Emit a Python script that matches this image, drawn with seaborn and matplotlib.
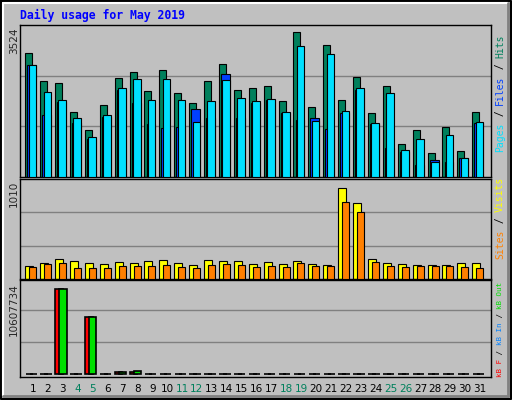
import numpy as np
import matplotlib
matplotlib.use("Agg")
import matplotlib.pyplot as plt
import seaborn as sns

days = list(range(1, 32))
weekends = [4, 5, 11, 12, 18, 19, 25, 26]
hits = [2935, 2262, 2215, 1541, 1100, 1704, 2331, 2494, 2029, 2540, 1983, 1750, 2262, 2680, 2052, 2099,
        2145, 1797, 3423, 1657, 3121, 1820, 2354, 1518, 2145, 775, 1100, 565, 1193, 612, 1541]
pages = [2657, 2006, 1820, 1402, 937, 1472, 2099, 2308, 1820, 2308, 1820, 1309, 1797, 2285, 1867, 1797,
         1843, 1541, 3098, 1332, 2912, 1564, 2099, 1286, 1983, 635, 891, 356, 984, 449, 1309]
files = [2657, 1472, 1781, 1286, 891, 1425, 2052, 1750, 1262, 1170, 1193, 1611, 1402, 2447, 1402, 1750,
         1820, 1518, 1355, 1402, 1146, 1518, 2052, 1262, 682, 589, 287, 403, 356, 449, 1286]
visits = [143, 173, 214, 194, 173, 163, 184, 173, 194, 204, 173, 153, 204, 194, 194, 163, 184, 163, 194,
          163, 153, 969, 806, 214, 173, 163, 153, 153, 153, 173, 173]
sites = [122, 163, 173, 112, 112, 112, 133, 133, 143, 153, 122, 112, 153, 163, 153, 122, 133, 122, 173,
         143, 133, 816, 714, 184, 133, 122, 133, 133, 133, 122, 112]
kb_out = [0, 0, 10160000, 0, 6810000, 0, 335000, 447000] + [0] * 23
kb_f = [0, 0, 10160000, 0, 6810000, 0, 335000, 335000] + [0] * 23
max_top, max_mid, max_bot = 3524, 1010, 10607734

sns.set_style("white", {"axes.facecolor": "#C0C0C0", "figure.facecolor": "#C0C0C0"})
W, H = 512, 400
fig = plt.figure(figsize=(W / 100, H / 100), dpi=100)
fig.patch.set_facecolor("#C0C0C0")

def px_axes(x0, y0, x1, y1):
    return fig.add_axes([x0 / W, 1 - y1 / H, (x1 - x0) / W, (y1 - y0) / H])

xl = (1 - 13 / 14.9, 1 + (491 - 33) / 14.9)
d = np.array(days, dtype=float)

def setup(ax, ymax):
    ax.set_xlim(*xl)
    ax.set_ylim(0, ymax * 1.0)
    ax.set_facecolor("#C0C0C0")
    for g in (ymax / 3, 2 * ymax / 3):
        ax.axhline(g, color="#808080", lw=1, zorder=0)
    ax.set_xticks([]); ax.set_yticks([])
    for s in ax.spines.values():
        s.set_color("black"); s.set_linewidth(1)

ax1 = px_axes(20, 25, 491, 177)
setup(ax1, max_top * 1.02)
ax1.bar(d - 0.52, hits, width=0.47, align="edge", color="#00805C", edgecolor="black", lw=0.8, zorder=2)
ax1.bar(d - 0.38, files, width=0.6, align="edge", color="#0040FF", edgecolor="black", lw=0.8, zorder=3)
ax1.bar(d - 0.29, pages, width=0.51, align="edge", color="#00E0FF", edgecolor="black", lw=0.8, zorder=4)

ax2 = px_axes(20, 179, 491, 279)
setup(ax2, max_mid * 1.05)
ax2.bar(d - 0.52, visits, width=0.54, align="edge", color="#FFFF00", edgecolor="black", lw=0.8, zorder=2)
ax2.bar(d - 0.25, sites, width=0.47, align="edge", color="#FF8000", edgecolor="black", lw=0.8, zorder=3)

ax3 = px_axes(20, 280, 491, 377)
setup(ax3, max_bot * 1.08)
ax3.bar(d - 0.5, kb_f, width=0.5, align="edge", color="#FF0000", edgecolor="black", lw=1.2, zorder=2)
ax3.bar(d - 0.23, kb_out, width=0.49, align="edge", color="#00E000", edgecolor="black", lw=1.2, zorder=3)
ax3.set_ylim(-max_bot * 0.03, max_bot * 1.06)

fig.text(20 / W, 1 - 15 / H, "Daily usage for May 2019", color="#0000FF", fontsize=8.3,
         family="DejaVu Sans Mono", weight="bold", va="center", ha="left")

for lab, y in [("3524", 28), ("1010", 181), ("10607734", 283)]:
    fig.text(14 / W, 1 - y / H, lab, rotation=90, fontsize=7.5, va="top", ha="center")

def vlegend(x, ybottom, pieces, fs=7):
    step = fs * 100 / 72 * 0.602 + 0.05
    y = ybottom
    for txt, col in pieces:
        fig.text(x / W, 1 - y / H, txt, rotation=90, color=col, fontsize=fs, family="DejaVu Sans Mono",
                 va="bottom", ha="center")
        y -= step * len(txt)

vlegend(500, 152, [("Pages", "#00E0FF"), (" / ", "black"), ("Files", "#0040FF"), (" / ", "black"), ("Hits", "#00805C")])
vlegend(500, 259, [("Sites", "#FF8000"), (" / ", "black"), ("Visits", "#FFFF00")])
vlegend(500, 377, [("kB F", "#FF0000"), (" / ", "black"), ("kB In", "#0080FF"), (" / ", "black"), ("kB Out", "#00E000")], fs=5.4)

for i in days:
    xp = 33 + 14.9 * (i - 1)
    fig.text(xp / W, 1 - 389 / H, str(i), fontsize=7.5, ha="center", va="center",
             color="#00805C" if i in weekends else "black")

# 3D frame
fr = fig.add_axes([0, 0, 1, 1], facecolor="none")
fr.set_xlim(0, W); fr.set_ylim(H, 0); fr.axis("off")
fr.plot([1, W - 1, W - 1, 1, 1], [1, 1, H - 1, H - 1, 1], color="black", lw=1.5)
fr.plot([3, W - 4], [3, 3], color="white", lw=1.5); fr.plot([3, 3], [3, H - 4], color="white", lw=1.5)
fr.plot([3, W - 4], [H - 4, H - 4], color="#808080", lw=2); fr.plot([W - 4, W - 4], [3, H - 4], color="#808080", lw=2)

fig.savefig("out.png", dpi=100, facecolor="#C0C0C0")
